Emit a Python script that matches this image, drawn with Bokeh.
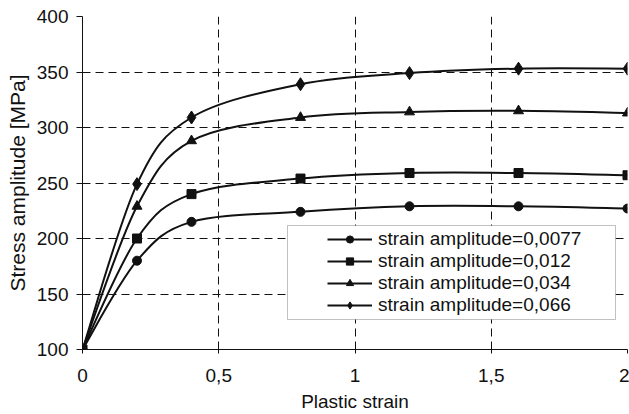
from bokeh.plotting import figure
from bokeh.models import (Range1d, FixedTicker, CustomJSTickFormatter, Legend, LegendItem,
                          BoxAnnotation, ColumnDataSource)
from bokeh.embed import file_html
from bokeh.resources import INLINE

# ---- data ----
plastic_strain = [0, 0.2, 0.4, 0.8, 1.2, 1.6, 2.0]
stress_0077 = [100, 180, 215, 224, 229, 229, 227]
stress_012 = [100, 200, 240, 254, 259, 259, 257]
stress_034 = [100, 229, 288, 309, 314, 315, 313]
stress_066 = [100, 249, 309, 339, 349, 353, 353]
series_labels = ["strain amplitude=0,0077", "strain amplitude=0,012",
                 "strain amplitude=0,034", "strain amplitude=0,066"]
x_ticks = [0, 0.5, 1, 1.5, 2]
y_ticks = [100, 150, 200, 250, 300, 350, 400]

FONT = "Liberation Sans"
INK = "#111111"

p = figure(width=629, height=414, output_backend="svg", toolbar_location=None,
           x_range=Range1d(0, 2), y_range=Range1d(100, 400),
           min_border_left=82, min_border_right=2, min_border_top=16, min_border_bottom=64)
p.outline_line_color = None
p.background_fill_color = "white"
p.border_fill_color = "white"

for ax in (p.xaxis[0], p.yaxis[0]):
    ax.axis_line_color = INK
    ax.axis_line_width = 1
    ax.major_tick_line_color = INK
    ax.minor_tick_line_color = None
    ax.major_tick_in = 0
    ax.major_label_text_font = FONT
    ax.major_label_text_font_size = "19px"
    ax.major_label_text_color = INK
    ax.axis_label_text_font = FONT
    ax.axis_label_text_font_size = "19px"
    ax.axis_label_text_font_style = "normal"
    ax.axis_label_text_color = INK

p.xaxis.ticker = FixedTicker(ticks=x_ticks)
p.yaxis.ticker = FixedTicker(ticks=y_ticks)
p.xaxis.formatter = CustomJSTickFormatter(code="return String(tick).replace('.', ',');")
p.xaxis.major_tick_out = 4
p.xaxis.major_label_standoff = 15
p.xaxis.axis_label = "Plastic strain"
p.xaxis.axis_label_standoff = 6
p.yaxis.major_tick_out = 6
p.yaxis.major_label_standoff = 8
p.yaxis.axis_label = "Stress amplitude [MPa]"
p.yaxis.axis_label_text_font_size = "21px"
p.yaxis.axis_label_standoff = 5

for g in (p.xgrid[0], p.ygrid[0]):
    g.grid_line_color = INK
    g.grid_line_dash = "8 5"
    g.grid_line_width = 1
p.xgrid.ticker = FixedTicker(ticks=x_ticks)
p.ygrid.ticker = FixedTicker(ticks=y_ticks)


def smooth_segments(xs, ys):
    # Excel-style smoothed line: cubic Bezier control points from neighbours
    n = len(xs)
    x0, y0, x1, y1, cx0, cy0, cx1, cy1 = [], [], [], [], [], [], [], []
    for i in range(n - 1):
        pxp, pyp = (xs[i - 1], ys[i - 1]) if i > 0 else (xs[i], ys[i])
        pxn, pyn = (xs[i + 2], ys[i + 2]) if i + 2 < n else (xs[i + 1], ys[i + 1])
        x0.append(xs[i]); y0.append(ys[i])
        x1.append(xs[i + 1]); y1.append(ys[i + 1])
        cx0.append(xs[i] + (xs[i + 1] - pxp) / 6); cy0.append(ys[i] + (ys[i + 1] - pyp) / 6)
        cx1.append(xs[i + 1] - (pxn - xs[i]) / 6); cy1.append(ys[i + 1] - (pyn - ys[i]) / 6)
    return ColumnDataSource(dict(x0=x0, y0=y0, x1=x1, y1=y1, cx0=cx0, cy0=cy0, cx1=cx1, cy1=cy1))


series = [stress_0077, stress_012, stress_034, stress_066]
markers = [("circle", 9), ("square", 9), ("triangle", 10), ("diamond", 13)]
items = []
for vals, (mk, sz), lab in zip(series, markers, series_labels):
    src = smooth_segments(plastic_strain, vals)
    curve = p.bezier(x0="x0", y0="y0", x1="x1", y1="y1", cx0="cx0", cy0="cy0",
                     cx1="cx1", cy1="cy1", source=src, line_color=INK, line_width=2)
    pts = p.scatter(plastic_strain, vals, marker=mk, size=sz, fill_color=INK, line_color=INK)
    items.append(LegendItem(label=lab, renderers=[curve, pts]))

box = BoxAnnotation(left=287, right=615, top=225, bottom=319,
                    left_units="canvas", right_units="canvas", top_units="canvas", bottom_units="canvas",
                    fill_color="white", fill_alpha=1, line_color="#333333", line_width=1,
                    editable=False)
p.add_layout(box)

legend = Legend(items=items, location=(245, 33), margin=0, padding=0,
                border_line_alpha=0, background_fill_alpha=0,
                glyph_width=45, glyph_height=18, label_height=18, spacing=-1,
                label_standoff=6, label_text_font=FONT, label_text_font_size="19px",
                label_text_color=INK)
p.add_layout(legend)

open("out.html", "w").write(file_html(p, INLINE))
